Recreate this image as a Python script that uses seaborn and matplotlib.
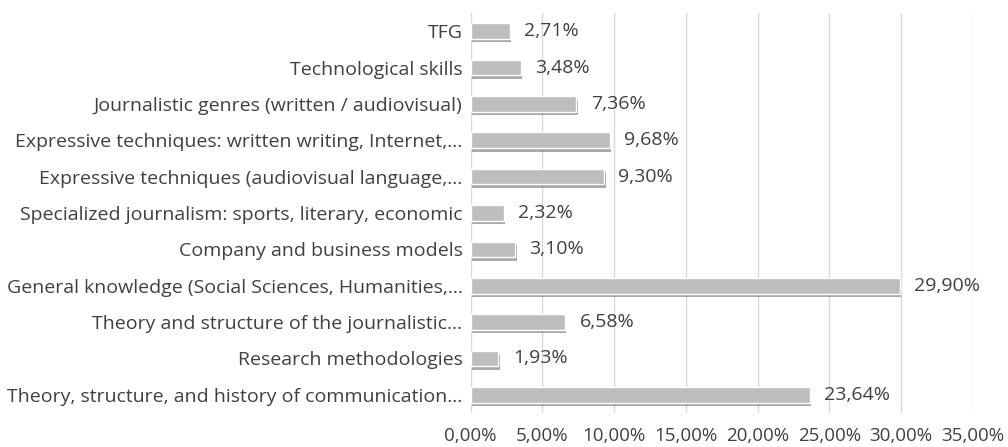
import matplotlib
matplotlib.use("Agg")
import matplotlib.pyplot as plt
import matplotlib.patheffects as pe
import seaborn as sns
import pandas as pd

categories = [
    "TFG",
    "Technological skills",
    "Journalistic genres (written / audiovisual)",
    "Expressive techniques: written writing, Internet,…",
    "Expressive techniques (audiovisual language,…",
    "Specialized journalism: sports, literary, economic",
    "Company and business models",
    "General knowledge (Social Sciences, Humanities,…",
    "Theory and structure of the journalistic…",
    "Research methodologies",
    "Theory, structure, and history of communication…",
]
values = [2.71, 3.48, 7.36, 9.68, 9.30, 2.32, 3.10, 29.90, 6.58, 1.93, 23.64]
xticks = [0, 5, 10, 15, 20, 25, 30, 35]

sns.set_theme(style="white")
plt.rcParams['font.family'] = ['Open Sans', 'DejaVu Sans']
text_color = "#404040"

df = pd.DataFrame({"cat": categories, "val": values})

fig = plt.figure(figsize=(10.08, 4.47), dpi=100)
ax = fig.add_axes([0.467, 0.076, 0.498, 0.895])

sns.barplot(data=df, x="val", y="cat", orient="h", color="#bdbdbd",
            saturation=1, width=0.43, ax=ax, zorder=3)

for p in ax.patches:
    p.set_path_effects([pe.SimplePatchShadow(offset=(1, -2.5), shadow_rgbFace="#555555", alpha=0.5),
                        pe.Normal()])

for p, v in zip(ax.patches, values):
    y = p.get_y() + p.get_height() / 2
    ax.text(p.get_width() + 1.0, y, f"{v:.2f}%".replace(".", ","), va="center", ha="left",
            fontsize=14, color=text_color)

ax.set_xlim(0, 35)
ax.set_ylim(len(categories) - 0.5, -0.5)
ax.set_xticks(xticks)
ax.set_xticklabels([f"{t:.2f}%".replace(".", ",") for t in xticks])
ax.xaxis.grid(True, color="#d9d9d9", linewidth=1, zorder=0)
ax.set_axisbelow(True)
ax.tick_params(axis="both", length=0, colors=text_color)
ax.tick_params(axis="y", labelsize=14, pad=6)
ax.tick_params(axis="x", labelsize=13.5, pad=10)
ax.set_xlabel("")
ax.set_ylabel("")
for s in ax.spines.values():
    s.set_visible(False)

fig.savefig("out.png", dpi=100)
